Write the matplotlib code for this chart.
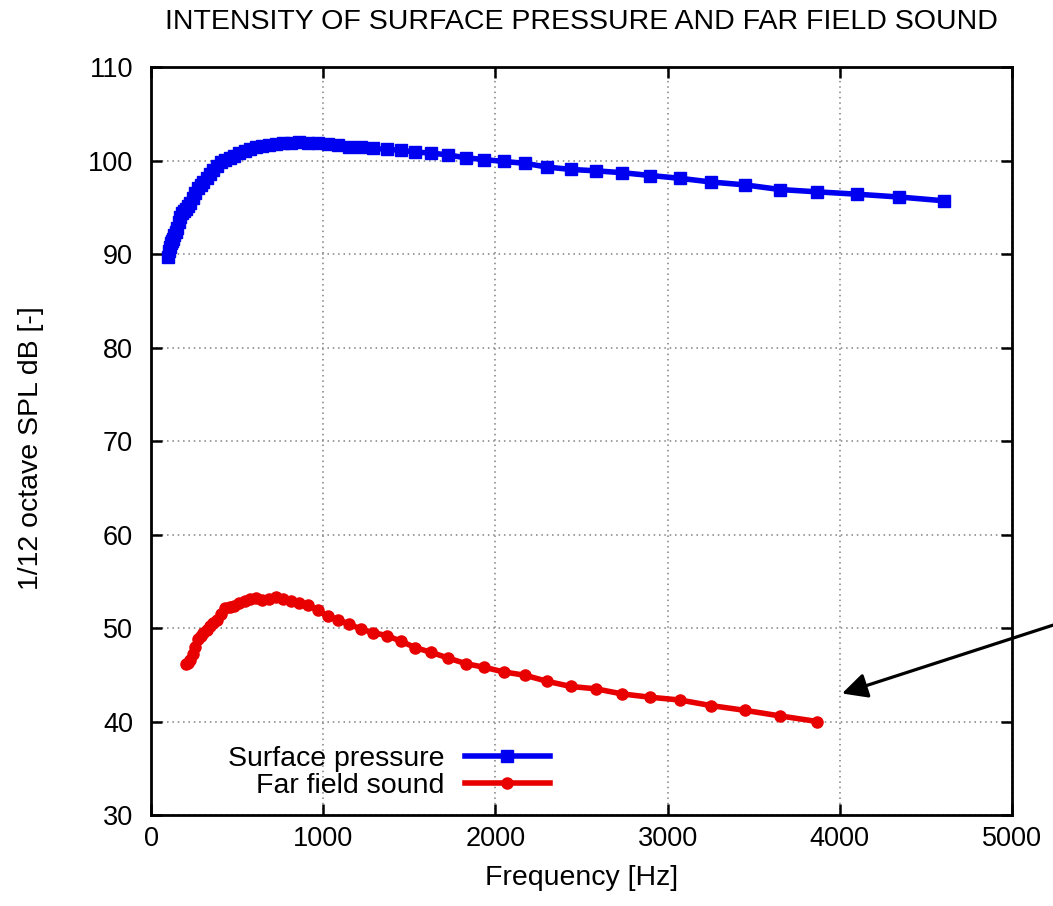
import matplotlib
matplotlib.use("Agg")
import matplotlib.pyplot as plt

# 1/12 octave band centres [Hz]
FREQ = [96.0, 101.7, 107.8, 114.2, 121.0, 128.2, 135.8, 143.8, 152.4, 161.5,
        171.1, 181.2, 192.0, 203.4, 215.5, 228.3, 241.9, 256.3, 271.6, 287.7,
        304.8, 323.0, 342.2, 362.5, 384.0, 406.9, 431.1, 456.7, 483.8, 512.6,
        543.1, 575.4, 609.6, 645.8, 684.2, 724.9, 768.0, 813.7, 862.1, 913.3,
        967.6, 1025.1, 1086.1, 1150.7, 1219.1, 1291.6, 1368.4, 1449.8, 1536.0, 1627.3,
        1724.1, 1826.6, 1935.2, 2050.3, 2172.2, 2301.4, 2438.2, 2583.2, 2736.8, 2899.5,
        3072.0, 3254.7, 3448.3, 3653.3, 3870.5, 4100.7, 4344.5, 4602.9]

SURFACE_DB = [89.7, 90.3, 90.8, 91.2, 91.4, 91.6, 92.0, 92.4, 92.8, 93.4,
              94.0, 94.4, 94.6, 94.8, 95.1, 95.5, 96.0, 96.5, 97.1, 97.4,
              97.7, 98.1, 98.6, 99.0, 99.4, 99.8, 100.1, 100.3, 100.5, 100.8,
              101.0, 101.2, 101.4, 101.6, 101.7, 101.8, 101.9, 101.9, 102.0, 101.9,
              101.9, 101.8, 101.7, 101.5, 101.4, 101.3, 101.2, 101.1, 100.9, 100.8,
              100.6, 100.3, 100.1, 99.9, 99.7, 99.3, 99.05, 98.9, 98.7, 98.4,
              98.1, 97.7, 97.4, 96.9, 96.65, 96.4, 96.1, 95.7]

# far field uses bands 203 Hz .. 3870 Hz
FAR_FREQ = FREQ[13:65]
FAR_DB = [46.2, 46.3, 46.6, 47.2, 48.0, 48.8, 49.2, 49.5, 49.8, 50.2,
          50.5, 50.9, 51.5, 52.1, 52.3, 52.4, 52.7, 52.9, 53.1, 53.2,
          53.0, 53.1, 53.3, 53.1, 52.9, 52.7, 52.5, 51.9, 51.3, 50.9,
          50.4, 49.9, 49.5, 49.2, 48.6, 47.9, 47.4, 46.8, 46.2, 45.8,
          45.3, 44.95, 44.3, 43.75, 43.5, 42.95, 42.6, 42.3, 41.7, 41.2,
          40.6, 40.0]

X_TICKS = [0, 1000, 2000, 3000, 4000, 5000]
Y_TICKS = [30, 40, 50, 60, 70, 80, 90, 100, 110]

plt.rcParams["font.family"] = ["Liberation Sans", "DejaVu Sans"]

fig = plt.figure(figsize=(10.53, 9.06), dpi=100)
ax = fig.add_axes([0.1434, 0.1004, 0.8176, 0.8256])

ax.plot(FREQ, SURFACE_DB, color="#0000f0", lw=4.0, marker="s", ms=9,
        label="Surface pressure")
ax.plot(FAR_FREQ, FAR_DB, color="#e80000", lw=4.0, marker="o", ms=8,
        label="Far field sound")

ax.set_xlim(0, 5000)
ax.set_ylim(30, 110)
ax.set_xticks(X_TICKS)
ax.set_yticks(Y_TICKS)
ax.grid(True, linestyle=(0, (1, 2.5)), color="#808080", lw=1.1)
ax.tick_params(direction="in", length=8, width=1.8, top=True, right=True,
               labelsize=19.5, colors="black")
ax.tick_params(axis="y", pad=13)
ax.tick_params(axis="x", pad=8)
for s in ax.spines.values():
    s.set_linewidth(2.0)

ax.set_xlabel("Frequency [Hz]", fontsize=20.5, labelpad=9)
ax.set_ylabel("1/12 octave SPL dB [-]", fontsize=20.5)
ax.yaxis.set_label_coords(-0.124, 0.49)
fig.text(0.552, 0.976, "INTENSITY OF SURFACE PRESSURE AND FAR FIELD SOUND",
         ha="center", va="center", fontsize=20.5)

ax.legend(loc="lower right", bbox_to_anchor=(0.4634, 0.022), frameon=False,
          markerfirst=False, fontsize=20.5, handlelength=3.0, labelspacing=0.02,
          handletextpad=0.7, borderpad=0, borderaxespad=0)

ax.annotate("", xy=(4013, 43.0), xycoords="data",
            xytext=(1.0, 0.31), textcoords="figure fraction",
            arrowprops=dict(arrowstyle="-|>", color="black", lw=2.3,
                            mutation_scale=38, shrinkA=0, shrinkB=0),
            annotation_clip=False)

fig.savefig("out.png", dpi=100)
